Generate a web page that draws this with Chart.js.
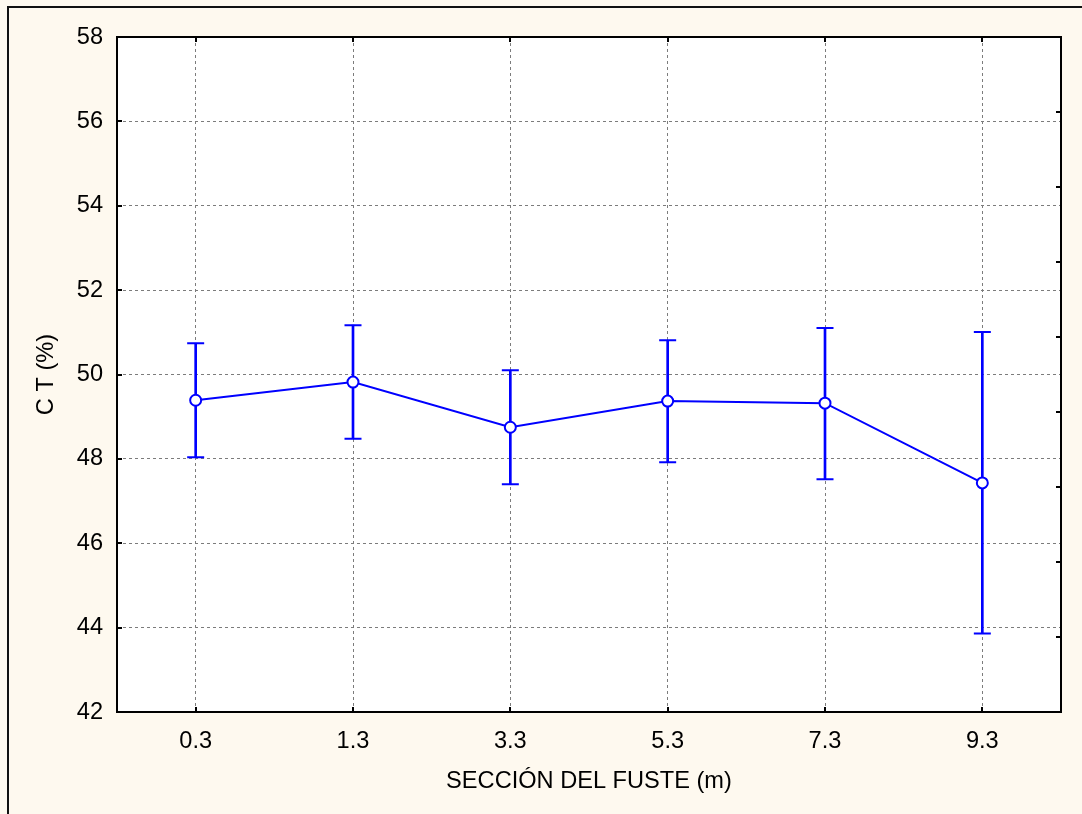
<!DOCTYPE html>
<html><head><meta charset="utf-8">
<script src="https://cdn.jsdelivr.net/npm/chart.js@4"></script>
<style>html,body{margin:0;padding:0;background:#fef9ef;overflow:hidden}#wrap{position:relative;width:1082px;height:814px}</style>
</head><body><div id="wrap"><canvas id="c" width="1082" height="814"></canvas></div>
<script>
const sections = ['0.3', '1.3', '3.3', '5.3', '7.3', '9.3'];
const meanCT  = [49.39, 49.82, 48.75, 49.37, 49.32, 47.43];
const upperCT = [50.74, 51.17, 50.10, 50.81, 51.10, 51.01];
const lowerCT = [48.04, 48.48, 47.40, 47.92, 47.52, 43.86];
const yTickValues = [42, 44, 46, 48, 50, 52, 54, 56, 58];
const rightTickMarks = [0, 1, 2, 3, 4, 5, 6, 7, 8, 9];
const xTitle = 'SECCIÓN DEL FUSTE (m)';
const yTitle = 'C T (%)';

const BLUE = '#0000ff';
const GRID = '#7c7c7c';
const FONT = '"Liberation Sans", Arial, Helvetica, sans-serif';
const FS = 23.6;
Chart.defaults.font.family = FONT;
Chart.defaults.color = '#000';

const decor = {
  id: 'decor',
  beforeDraw(chart) {
    const {ctx, chartArea: a, width, height} = chart;
    ctx.save();
    ctx.fillStyle = '#fef9ef'; ctx.fillRect(0, 0, width, height);
    ctx.fillStyle = '#111'; ctx.fillRect(7, 6, 2, height - 6); ctx.fillRect(7, 6, width - 7, 2);
    ctx.fillStyle = '#fff'; ctx.fillRect(a.left, a.top, a.right - a.left, a.bottom - a.top);
    ctx.restore();
  },
  afterDraw(chart) {
    const {ctx, chartArea: a, scales} = chart;
    ctx.save();
    ctx.strokeStyle = '#000'; ctx.lineWidth = 2;
    ctx.strokeRect(a.left, a.top, a.right - a.left, a.bottom - a.top);
    ctx.beginPath();
    const L = 5;
    scales.y.ticks.forEach((t, i) => { const p = Math.round(scales.y.getPixelForTick(i)); ctx.moveTo(a.left, p); ctx.lineTo(a.left + L, p); });
    scales.y2.ticks.forEach((t, i) => { const p = Math.round(scales.y2.getPixelForTick(i)); ctx.moveTo(a.right, p); ctx.lineTo(a.right - L, p); });
    scales.x.ticks.forEach((t, i) => { const p = Math.round(scales.x.getPixelForTick(i)); ctx.moveTo(p, a.top); ctx.lineTo(p, a.top + L); ctx.moveTo(p, a.bottom); ctx.lineTo(p, a.bottom - L); });
    ctx.stroke();
    ctx.restore();
  }
};

new Chart(document.getElementById('c'), {
  type: 'bar',
  data: {
    labels: sections,
    datasets: [
      { type: 'line', label: 'CT', data: meanCT, borderColor: BLUE, borderWidth: 2, tension: 0,
        pointRadius: 5.5, pointBackgroundColor: '#fff', pointBorderColor: BLUE, pointBorderWidth: 2, order: 0 },
      { type: 'line', label: 'upper', data: upperCT, showLine: false, pointStyle: 'line', pointRadius: 8.5,
        pointBorderColor: BLUE, pointBorderWidth: 2, borderColor: BLUE, order: 1 },
      { type: 'line', label: 'lower', data: lowerCT, showLine: false, pointStyle: 'line', pointRadius: 8.5,
        pointBorderColor: BLUE, pointBorderWidth: 2, borderColor: BLUE, order: 1 },
      { type: 'bar', label: 'range', data: sections.map((s, i) => [lowerCT[i], upperCT[i]]),
        backgroundColor: BLUE, borderWidth: 0, barThickness: 2, order: 2 }
    ]
  },
  options: {
    responsive: false,
    animation: false,
    events: [],
    layout: { padding: { top: 37, right: 21, left: 0, bottom: 0 } },
    plugins: { legend: { display: false }, tooltip: { enabled: false } },
    scales: {
      x: {
        offset: true,
        grid: { offset: false, color: GRID, lineWidth: 1, drawTicks: false },
        border: { display: false, dash: [3, 3] },
        ticks: { font: { size: FS }, padding: 15, color: '#000' },
        title: { display: true, text: xTitle, font: { size: FS }, color: '#000', padding: { top: 0, bottom: 18 } },
        afterFit(s) { s.height = 102; }
      },
      y: {
        min: 42, max: 58,
        afterBuildTicks(s) { s.ticks = yTickValues.map(v => ({ value: v })); },
        grid: { color: GRID, lineWidth: 1, drawTicks: false },
        border: { display: false, dash: [3, 3] },
        ticks: { font: { size: FS }, padding: 14, color: '#000' },
        title: { display: true, text: yTitle, font: { size: FS }, color: '#000', padding: { top: 32, bottom: 0 } },
        afterFit(s) { s.width = 117; }
      },
      y2: {
        position: 'right', min: 0, max: 9,
        afterBuildTicks(s) { s.ticks = rightTickMarks.map(v => ({ value: v })); },
        grid: { drawOnChartArea: false, drawTicks: false },
        border: { display: false },
        ticks: { display: false },
        afterFit(s) { s.width = 0; }
      }
    }
  },
  plugins: [decor]
});
</script></body></html>
